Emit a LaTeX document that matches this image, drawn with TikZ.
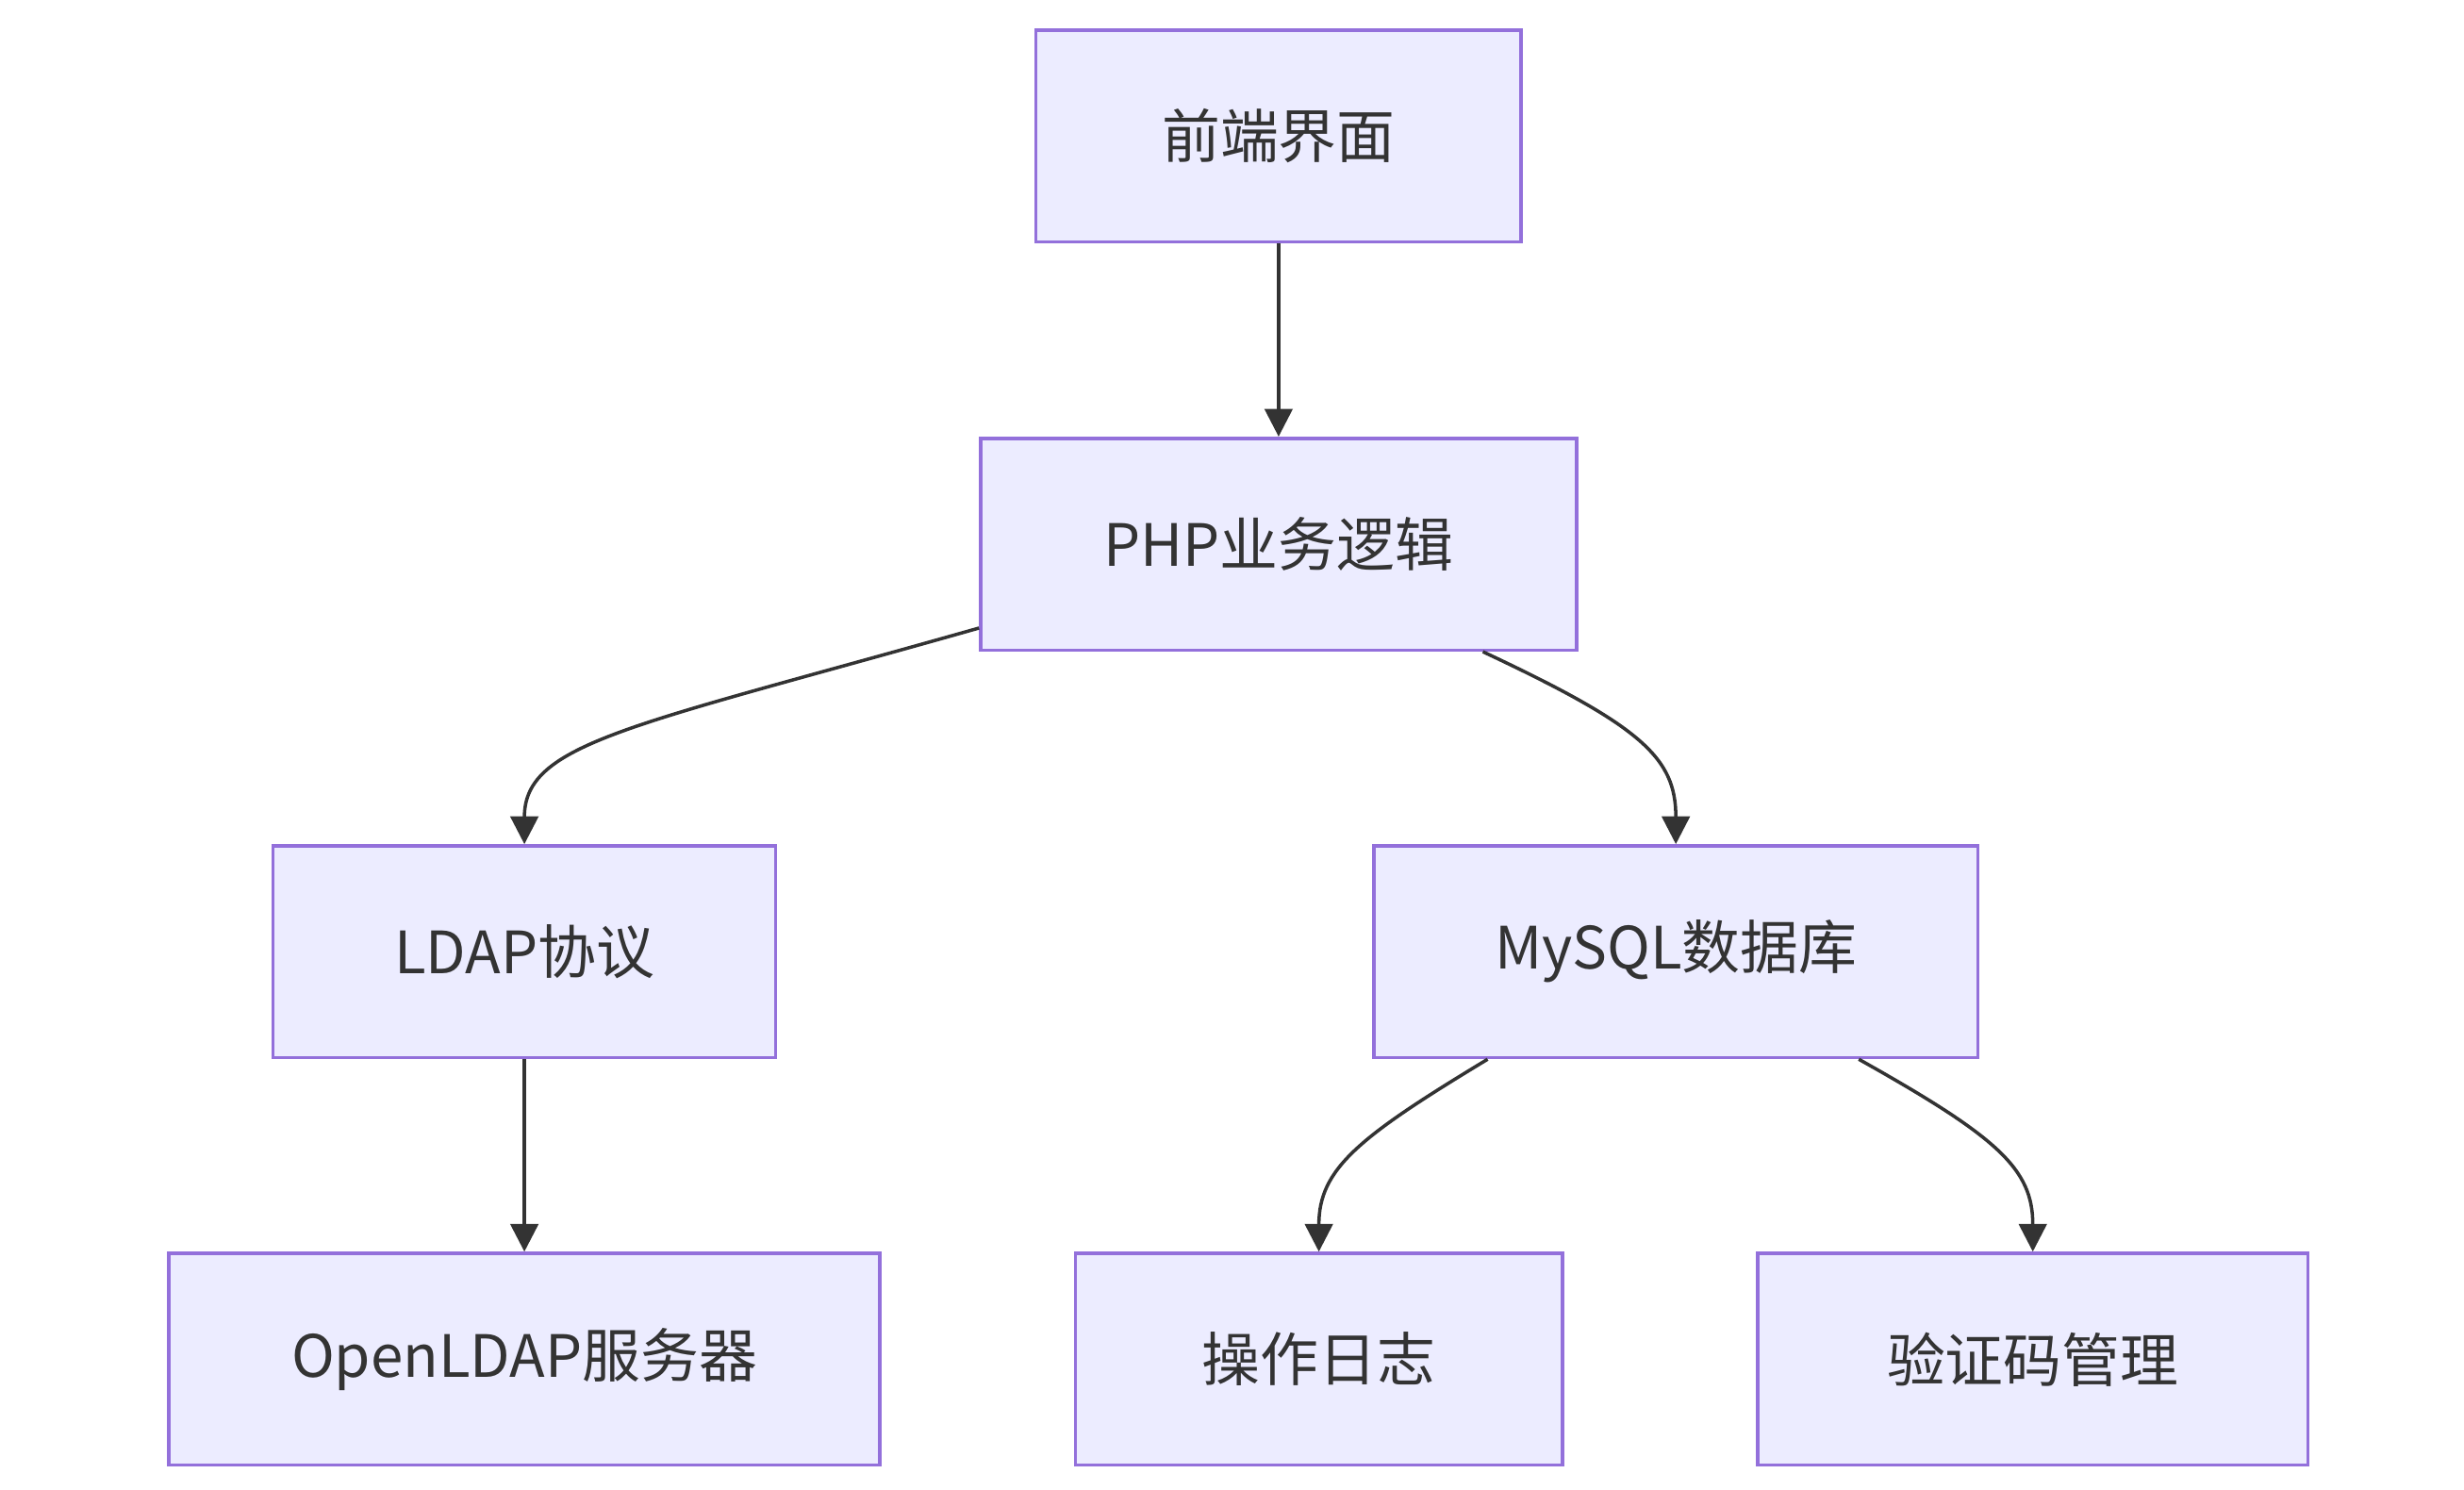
\documentclass[tikz,border=0pt]{standalone}
\usepackage{fontspec}
\setmainfont{Noto Sans CJK SC}
\usetikzlibrary{arrows.meta,calc}
\definecolor{boxfill}{HTML}{ECECFF}
\definecolor{boxline}{HTML}{9370DB}
\definecolor{edgeline}{HTML}{333333}

\begin{document}
\begin{tikzpicture}[
			x=0.01cm,y=-0.01cm,
			box/.style={draw=boxline,fill=boxfill,line width=0.6pt,minimum height=1.34cm,inner sep=0pt,text=edgeline,font=\fontsize{10.5}{12}\selectfont},
			edge/.style={draw=edgeline,line width=0.6pt,-{Triangle[length=5pt,width=5pt]}}
			]

			\useasboundingbox (0,0) rectangle (1560,943);

			\node[box,minimum width=3.07cm] (front) at (809.5,86) {前端界面};
			\node[box,minimum width=3.77cm] (php) at (809.5,344.5) {PHP业务逻辑};
			\node[box,minimum width=3.18cm] (ldap) at (332,602.5) {LDAP协议};
			\node[box,minimum width=3.82cm] (mysql) at (1061,602.5) {MySQL数据库};
			\node[box,minimum width=4.50cm] (open) at (332,860.5) {OpenLDAP服务器};
			\node[box,minimum width=3.08cm] (log) at (835,860.5) {操作日志};
			\node[box,minimum width=3.48cm] (code) at (1287,860.5) {验证码管理};

			\draw[edge] (front) -- (php);
			\draw[edge] ($(php.south west)+(0,-15)$) .. controls (400,460) and (332,470) .. (ldap.north);
			\draw[edge] ($(php.south west)+(319,0)$) .. controls (1040,460) and (1061,480) .. (mysql.north);
			\draw[edge] (ldap) -- (open);
			\draw[edge] ($(mysql.south west)+(73,0)$) .. controls (860,720) and (835,740) .. (log.north);
			\draw[edge] ($(mysql.south west)+(308,0)$) .. controls (1265,720) and (1287,740) .. (code.north);

			\end{tikzpicture}
\end{document}
